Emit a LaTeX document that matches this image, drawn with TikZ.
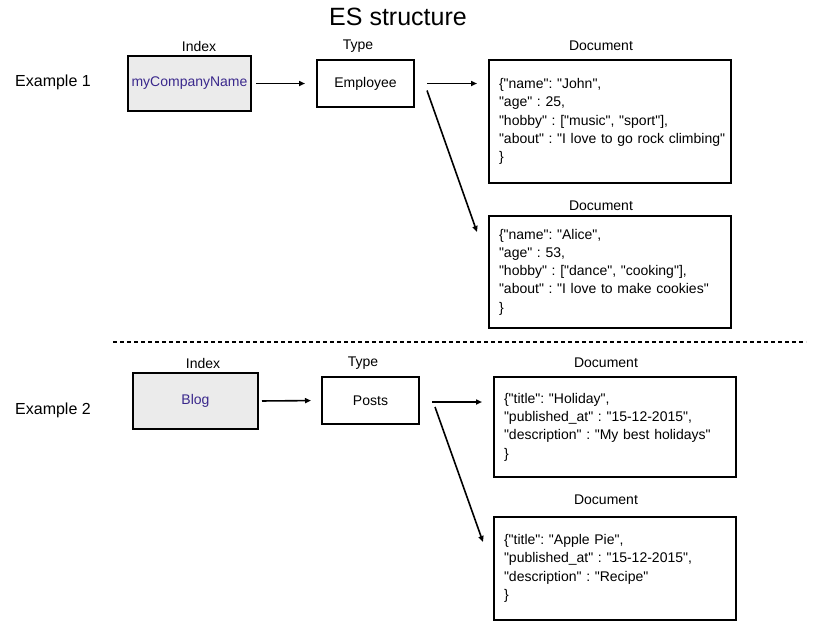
\documentclass[tikz,border=0pt]{standalone}
\usepackage{fontspec}
\setmainfont{Liberation Sans}[Ligatures=TeXOff]
\usetikzlibrary{arrows.meta}
\definecolor{idxgray}{RGB}{235,235,235}
\definecolor{idxtext}{RGB}{58,40,140}
\frenchspacing

\begin{document}
\begin{tikzpicture}[x=1pt,y=-1pt,
   every node/.style={font=\fontsize{14}{18.3}\selectfont},
   idxbox/.style={draw,line width=2pt,fill=idxgray,text=idxtext,minimum height=55pt},
   typbox/.style={draw,line width=2pt,minimum width=97pt,minimum height=47pt},
   docbox/.style={draw,line width=2pt,align=left,inner xsep=10pt,text width=222pt},
   conn/.style={line width=1.6pt,-{Triangle[length=6pt,width=5pt]}}]
\useasboundingbox (0,0) rectangle (814,630);
\node (title) at (398,17) {\fontsize{25}{30}\selectfont ES structure};
% example 1
\node (ex1) at (53,82) {\fontsize{16}{20}\selectfont Example 1};
\node[idxbox,minimum width=123pt] (idx1) at (189.5,83.5) {myCompanyName};
\node[typbox] (typ1) at (365.5,83.5) {Employee};
\node[docbox,minimum height=123pt] (doc1) at (610,121.5) {\{"name": "John",\\
"age" : 25,\\
"hobby" : ["music", "sport"],\\
\mbox{"about" : "I love to go rock climbing"}\\
\}};
\node[docbox,minimum height=112pt] (doc2) at (610,272) {\{"name": "Alice",\\
"age" : 53,\\
"hobby" : ["dance", "cooking"],\\
"about" : "I love to make cookies"\\
\}};
\node (idx1lbl) at (199,46) {Index};
\node (typ1lbl) at (358,46) {Type};
\node (doc1lbl) at (601,46) {Document};
\node (doc2lbl) at (601,206) {Document};
\draw[conn,shorten <=4pt,shorten >=11pt] (idx1.east) -- (typ1.west);
\draw[conn,shorten <=12pt,shorten >=11pt] (typ1.east) -- (typ1.east -| doc1.west);
\draw[conn] ([xshift=12pt,yshift=-7pt]typ1.east) -- ([xshift=-11pt,yshift=-17pt]doc2.north west);
% separator
\coordinate (sepl) at (113,342);
\coordinate (sepr) at (806,342);
\draw[line width=1.6pt,dash pattern=on 4pt off 3pt] (sepl) -- (sepr);
% example 2
\node (ex2) at (53,410) {\fontsize{16}{20}\selectfont Example 2};
\node[idxbox,minimum width=125pt,minimum height=56pt] (idx2) at (195.5,401) {Blog};
\node[typbox] (typ2) at (370.5,400.5) {Posts};
\node[docbox,minimum height=100pt] (doc3) at (615,427) {\{"title": "Holiday",\\
"published\_at" : "15-12-2015",\\
"description" : "My best holidays"\\
\}};
\node[docbox,minimum height=103pt] (doc4) at (615,568.5) {\{"title": "Apple Pie",\\
"published\_at" : "15-12-2015",\\
"description" : "Recipe"\\
\}};
\node (idx2lbl) at (203,363) {Index};
\node (typ2lbl) at (363,363) {Type};
\node (doc3lbl) at (606,363) {Document};
\node (doc4lbl) at (606,500) {Document};
\draw[conn,shorten <=3pt,shorten >=10pt] (idx2.east) -- (typ2.west);
\draw[conn,shorten <=12pt,shorten >=11pt] ([yshift=-1.5pt]typ2.east) -- ([yshift=-1.5pt]typ2.east -| doc3.west);
\draw[conn] ([xshift=15pt,yshift=-6.5pt]typ2.east) -- ([xshift=-10pt,yshift=-26pt]doc4.north west);
\end{tikzpicture}
\end{document}
